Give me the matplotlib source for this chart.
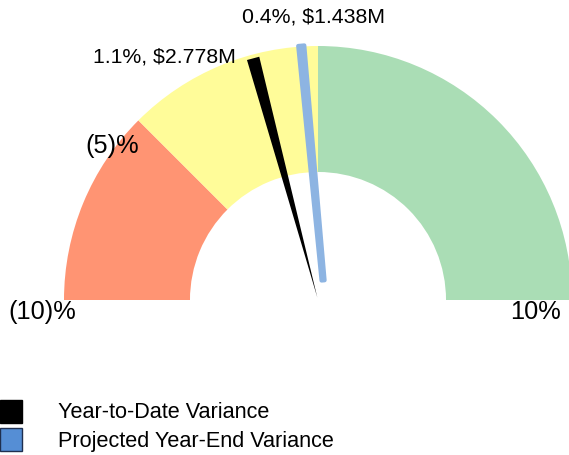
import numpy as np
import matplotlib
matplotlib.use("Agg")
import matplotlib.pyplot as plt
from matplotlib.patches import Wedge, Polygon, Rectangle

plt.rcParams["font.family"] = ["Liberation Sans", "DejaVu Sans"]

# gauge bands (percent variance)
band_lo = [-10, -5, 0]
band_hi = [-5, 0, 10]
band_colors = ["#FF9473", "#FFFC99", "#AADDB5"]

# tick labels on the gauge
tick_vals = [-10, -5, 10]
tick_text = ["(10)%", "(5)%", "10%"]

# needles: where they sit on the gauge, and their labels
needle_names = ["Year-to-Date Variance", "Projected Year-End Variance"]
needle_pos = [-1.67, -0.59]
needle_pct = [1.1, 0.4]
needle_amt = [2.778, 1.438]

W, H = 569, 455
CX, CY, R = 318, 300, 254  # pixel centre and outer radius


def ang(v):
    return 90 - v * 9.0


def px(x, y):
    # pixel -> data (gauge units)
    return (x - CX) / R, (CY - y) / R


fig = plt.figure(figsize=(W / 100, H / 100), dpi=100)
ax = fig.add_axes([0, 0, 1, 1])
ax.set_xlim(-CX / R, (W - CX) / R)
ax.set_ylim((CY - H) / R, CY / R)
ax.axis("off")

for lo, hi, c in zip(band_lo, band_hi, band_colors):
    ax.add_patch(Wedge((0, 0), 1.0, ang(hi), ang(lo), width=0.496,
                       facecolor=c, edgecolor="none"))

# black needle: thin wedge from centre to outer rim
t = np.radians(ang(needle_pos[0]))
d = np.array([np.cos(t), np.sin(t)])
p = np.array([-d[1], d[0]])
base = d * 0.01
tip = d * 0.985
ax.add_patch(Polygon([base, tip + p * 0.025, tip - p * 0.025],
                     closed=True, facecolor="black", edgecolor="none", zorder=3))

# projected needle: rounded, slightly offset bar
t = np.radians(ang(needle_pos[1]))
d = np.array([np.cos(t), np.sin(t)])
p = np.array([-d[1], d[0]])
off = -p * 0.027
b = off + d * 0.075
e = off + d * 1.003
ax.add_patch(Polygon([b + p * 0.006, e + p * 0.012, e - p * 0.012, b - p * 0.006],
                     closed=True, facecolor="#8DB4E2", edgecolor="#8DB4E2",
                     linewidth=3, joinstyle="round", zorder=3))

# needle labels
lab_xy = [px(236, 57), px(314, 17)]
lab_ha = ["right", "center"]
for pc, amt, xy, ha in zip(needle_pct, needle_amt, lab_xy, lab_ha):
    ax.text(xy[0], xy[1], f"{pc}%, ${amt:.3f}M", fontsize=15.3, ha=ha, va="center")

# tick labels
tick_xy = [px(42, 312), px(112, 146), px(535, 312)]
for s, xy in zip(tick_text, tick_xy):
    ax.text(xy[0], xy[1], s, fontsize=18.3, ha="center", va="center")

# legend
leg_fc = ["black", "#558ED5"]
leg_ec = ["black", "#1F2F4F"]
leg_y = [400, 428]
for name, fc, ec, y in zip(needle_names, leg_fc, leg_ec, leg_y):
    x0, y0 = px(0, y + 23)
    ax.add_patch(Rectangle((x0, y0), 22 / R, 23 / R, facecolor=fc, edgecolor=ec,
                           linewidth=1.0, clip_on=False))
    tx, ty = px(58, y + 13)
    ax.text(tx, ty, name, fontsize=15.6, ha="left", va="center")

fig.savefig("out.png", dpi=100)
